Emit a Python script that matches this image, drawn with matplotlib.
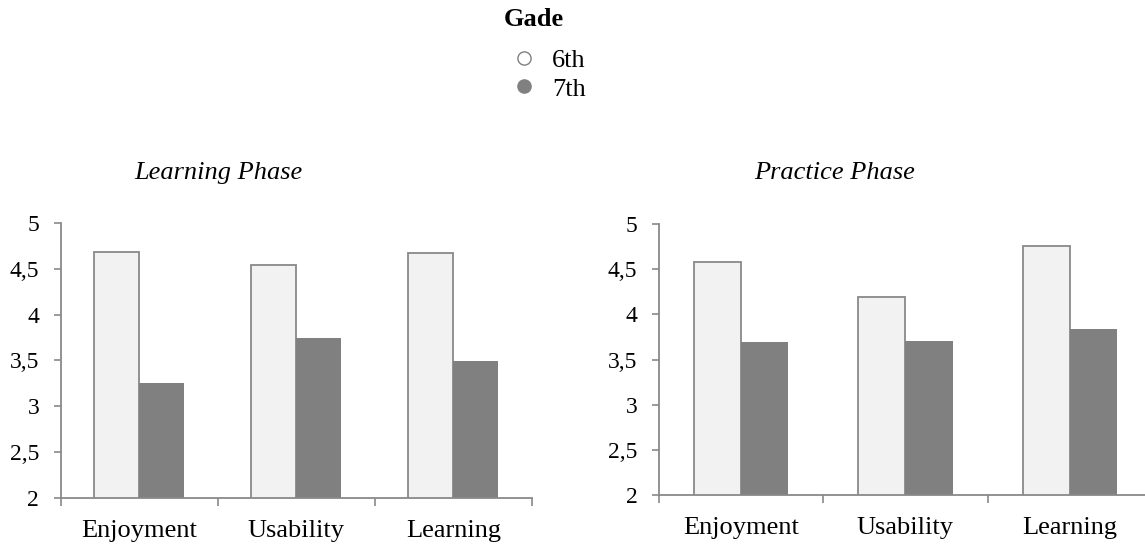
import numpy as np
import matplotlib
matplotlib.use("Agg")
from matplotlib import pyplot as plt
from matplotlib.lines import Line2D
from matplotlib.ticker import FixedLocator, FuncFormatter

plt.rcParams['font.family'] = ['Liberation Serif', 'DejaVu Serif']

# mean ratings per grade, one list per phase
categories = ['Enjoyment', 'Usability', 'Learning']
grades = ['6th', '7th']
learning_6th = [4.69, 4.54, 4.67]
learning_7th = [3.25, 3.75, 3.49]
practice_6th = [4.58, 4.19, 4.76]
practice_7th = [3.69, 3.71, 3.84]
y_ticks = [2, 2.5, 3, 3.5, 4, 4.5, 5]

LIGHT = '#f2f2f2'
DARK = '#808080'
EDGE = '#898989'
FS = 19


def draw_panel(ax, title, vals_6th, vals_7th, title_x):
    x = np.arange(len(categories))
    w = 0.287
    ax.bar(x - w / 2, vals_6th, w, color=LIGHT, edgecolor=EDGE, linewidth=1.3, zorder=2)
    ax.bar(x + w / 2, vals_7th, w, color=DARK, edgecolor=DARK, linewidth=0, zorder=2)

    ax.set_xlim(-0.5, len(categories) - 0.5)
    ax.set_ylim(2, 5)
    ax.set_yticks(y_ticks)
    ax.yaxis.set_major_formatter(FuncFormatter(lambda v, p: ('%g' % v).replace('.', ',')))

    # category names in the middle, small ticks on the group borders
    ax.set_xticks(x)
    ax.set_xticklabels(categories)
    ax.xaxis.set_minor_locator(FixedLocator(np.arange(-0.5, len(categories), 1.0)))
    ax.tick_params(axis='x', which='major', length=0, pad=16, labelsize=FS)
    ax.tick_params(axis='x', which='minor', length=6, width=1.2, color=EDGE, direction='out')
    ax.tick_params(axis='y', length=5, width=1.2, color=EDGE, pad=10.5, labelsize=17)

    for side in ['top', 'right']:
        ax.spines[side].set_visible(False)
    for side in ['left', 'bottom']:
        ax.spines[side].set_color(EDGE)
        ax.spines[side].set_linewidth(1.3)

    ax.figure.text(title_x, 0.683, title, fontsize=FS, style='italic',
                   ha='center', va='center')


fig = plt.figure(figsize=(11.45, 5.46), dpi=100)

ax1 = fig.add_axes([0.0530, 0.0885, 0.4114, 0.5025])
ax2 = fig.add_axes([0.5755, 0.0934, 0.4305, 0.4963])

draw_panel(ax1, 'Learning Phase', learning_6th, learning_7th, 218 / 1145)
draw_panel(ax2, 'Practice Phase', practice_6th, practice_7th, 835 / 1145)

# legend: bold heading plus the two grade markers
fig.text(534 / 1145, 1 - 19 / 546, 'Gade', fontsize=FS, weight='bold',
         ha='center', va='center')
handles = [
    Line2D([], [], marker='o', linestyle='', markersize=9.5,
           markerfacecolor='white', markeredgecolor=DARK, markeredgewidth=1.0),
    Line2D([], [], marker='o', linestyle='', markersize=9.5,
           markerfacecolor=DARK, markeredgecolor=DARK),
]
fig.legend(handles, grades, loc='upper center', bbox_to_anchor=(0.479, 0.945),
           frameon=False, fontsize=FS, handlelength=1.0, handletextpad=0.55,
           labelspacing=0.2, borderpad=0.2)

fig.savefig('out.png', dpi=100)
